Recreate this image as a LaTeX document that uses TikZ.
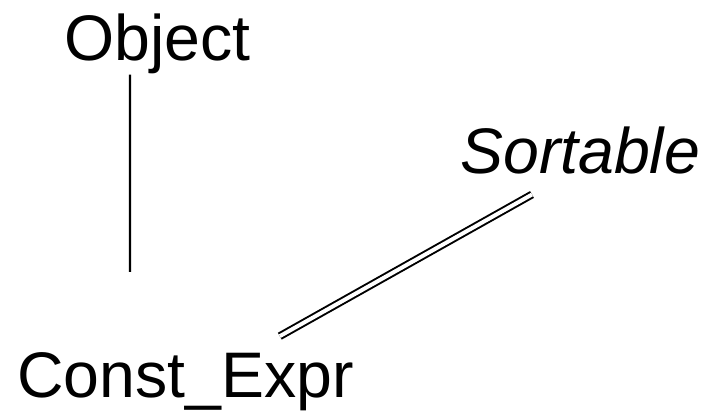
\documentclass[tikz,border=0pt]{standalone}
\usepackage{fontspec}
\setmainfont{Liberation Sans}
\usepackage{tikz}
\usetikzlibrary{positioning}

\begin{document}
\begin{tikzpicture}[
    font=\fontsize{45.8}{51}\selectfont,
    every node/.style={inner sep=0pt, anchor=base west},
    cls/.style   ={text=black},
    iface/.style ={text=black, font=\fontsize{45.8}{51}\selectfont\itshape},
    isa/.style   ={draw=black, line width=1.5pt},
    impl/.style  ={draw=black, line width=1.4pt, double, double distance=2.8pt},
  ]

  %% --- frame ---------------------------------------------------------------
  \useasboundingbox (0,0) rectangle (17.65,10.25);

  %% --- base lines of the three names ----------------------------------------
  \def\yObj{8.725}
  \def\ySort{5.9}
  \def\yExpr{0.325}

  %% --- nodes -----------------------------------------------------------------
  \node[cls]   (obj)   at (1.6,\yObj)   {Object};
  \node[iface] (sort)  at (11.5,\ySort) {Sortable};
  \node[cls]   (cexpr) at (0.425,\yExpr) {Const\_Expr};

  %% --- connectors --------------------------------------------------------------
  % superclass link (single line)
  \draw[isa] ([xshift=1.65cm]obj.south west) -- ([shift={(2.825,2.0)}]cexpr.north west);

  % interface link (double line)
  \draw[impl] ([shift={(6.57,0.39)}]cexpr.north west) -- ([shift={(1.8,-0.49)}]sort.south west);

\end{tikzpicture}
\end{document}
